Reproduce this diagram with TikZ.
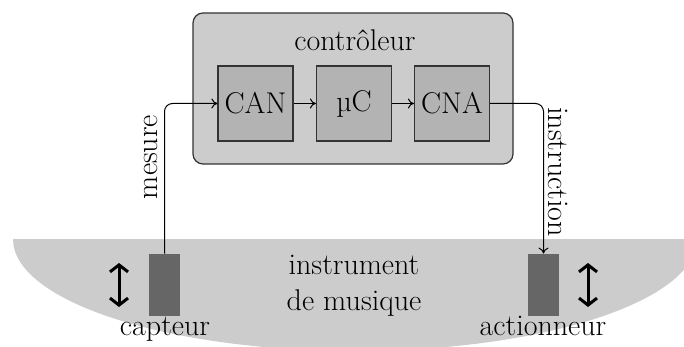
\documentclass[tikz,border=0pt]{standalone}
\usetikzlibrary{arrows.meta}
\definecolor{lightg}{HTML}{CCCCCC}
\definecolor{midg}{HTML}{B3B3B3}
\definecolor{darkg}{HTML}{666666}
\definecolor{edgeg}{HTML}{333333}
\tikzset{
  txt/.style={font=\fontsize{15}{18}\selectfont, inner sep=0pt},
  ctrlbox/.style={draw=edgeg, fill=lightg, line width=0.6pt, rounded corners=5pt,
    minimum width=160pt, minimum height=75.5pt, inner sep=0pt},
  unit/.style={draw=edgeg, fill=midg, line width=0.6pt, minimum width=37.5pt,
    minimum height=37.5pt, inner sep=0pt, font=\fontsize{15}{18}\selectfont},
  transducer/.style={fill=darkg, minimum width=15.5pt, minimum height=31pt, inner sep=0pt},
  conn/.style={line width=0.5pt, rounded corners=4pt, -{To[length=3pt,width=5pt]}},
  motion/.style={line width=1.5pt, {Straight Barb[length=3.5pt,width=9pt]}-{Straight Barb[length=3.5pt,width=9pt]}}
}
\begin{document}
\begin{tikzpicture}[x=0.5pt, y=-0.5pt]
\useasboundingbox (0,0) rectangle (684,347);
% instrument body
\begin{scope}
  \clip (0,239) rectangle (684,347);
  \fill[lightg] (355,239) ellipse [x radius=342, y radius=112];
\end{scope}
% controller
\node[ctrlbox] (ctrl) at (353,88.5) {};
\node[txt] (ctrltxt) at (355,40) {contrôleur};
\node[unit] (can) at (255.5,103.5) {CAN};
\node[unit] (uc) at (354,103.5) {µC};
\node[unit] (cna) at (452,103.5) {CNA};
% transducers
\node[transducer] (cap) at (164.5,285) {};
\node[transducer] (act) at (543.5,285) {};
\node[txt, anchor=base] (captxt) at (165,335) {capteur};
\node[txt, anchor=base] (acttxt) at (543,335) {actionneur};
\node[txt, align=center] (instr) at (354,286) {instrument\\de musique};
% motion arrows
\coordinate (l1) at (119,263);
\coordinate (l2) at (119,307);
\coordinate (r1) at (588,263);
\coordinate (r2) at (588,307);
\draw[motion] (l1) -- (l2);
\draw[motion] (r1) -- (r2);
% connectors
\draw[conn] (cap.north) |- (can.west);
\draw[conn] (can.east) -- (uc.west);
\draw[conn] (uc.east) -- (cna.west);
\draw[conn] (cna.east) -| (act.north);
\node[txt, rotate=90] (mes) at (151,157) {mesure};
\node[txt, rotate=-90] (ins) at (558,172) {instruction};
\end{tikzpicture}
\end{document}
